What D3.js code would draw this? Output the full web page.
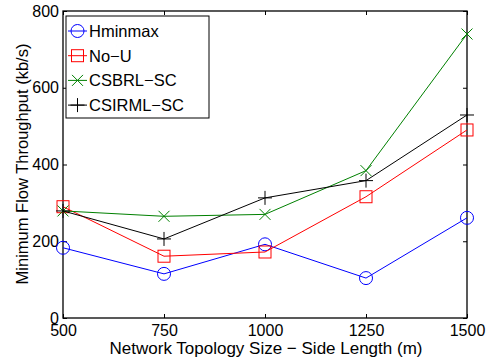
<!DOCTYPE html>
<html>
<head>
<meta charset="utf-8">
<script src="https://cdn.jsdelivr.net/npm/d3@7"></script>
<style>
  body { margin: 0; background: #fff; }
  text { font-family: "Liberation Sans", Arial, sans-serif; }
</style>
</head>
<body>
<script>
// Data
var sizes = [500, 750, 1000, 1250, 1500];
var hminmax = [183, 115, 192, 104, 261];
var noU = [290, 161, 172, 316, 490];
var csbrl = [279, 265, 270, 384, 740];
var csirml = [279, 206, 313, 358, 529];
var yTicks = [0, 200, 400, 600, 800];

var series = [
    {name: "Hminmax", values: hminmax, color: "#0000ff", marker: "circle"},
    {name: "No\u2212U", values: noU, color: "#ff0000", marker: "square"},
    {name: "CSBRL\u2212SC", values: csbrl, color: "#008000", marker: "x"},
    {name: "CSIRML\u2212SC", values: csirml, color: "#000000", marker: "plus"}
];

var width = 490, height = 362;
var margin = {top: 11, right: 23, bottom: 44, left: 63};
var plotW = width - margin.left - margin.right,
    plotH = height - margin.top - margin.bottom;

var svg = d3.select("body").append("svg")
    .attr("width", width)
    .attr("height", height);

var g = svg.append("g")
    .attr("transform", "translate(" + margin.left + "," + margin.top + ")");

var xScale = d3.scaleLinear().domain([500, 1500]).range([0, plotW]);
var yScale = d3.scaleLinear().domain([0, 800]).range([plotH, 0]);

// Box
g.append("rect")
    .attr("width", plotW).attr("height", plotH)
    .attr("fill", "none").attr("stroke", "#000").attr("stroke-width", 1.3);

// Axes with inward ticks (Matlab style)
function styleAxis(sel) {
    sel.select(".domain").remove();
    sel.selectAll("line").attr("stroke", "#000");
    sel.selectAll("text").style("font-size", "16px").attr("fill", "#000");
}
g.append("g").attr("transform", "translate(0," + plotH + ")")
    .call(d3.axisBottom(xScale).tickValues(sizes).tickFormat(d3.format("d"))
        .tickSizeInner(-4).tickSizeOuter(0).tickPadding(7))
    .call(styleAxis);
g.append("g")
    .call(d3.axisTop(xScale).tickValues(sizes).tickSizeInner(-4).tickSizeOuter(0).tickFormat(""))
    .call(styleAxis);
g.append("g")
    .call(d3.axisLeft(yScale).tickValues(yTicks).tickSizeInner(-4).tickSizeOuter(0).tickPadding(4))
    .call(styleAxis);
g.append("g").attr("transform", "translate(" + plotW + ",0)")
    .call(d3.axisRight(yScale).tickValues(yTicks).tickSizeInner(-4).tickSizeOuter(0).tickFormat(""))
    .call(styleAxis);

// Axis labels
svg.append("text")
    .attr("x", 266).attr("y", 354)
    .attr("text-anchor", "middle").style("font-size", "17px")
    .text("Network Topology Size \u2212 Side Length (m)");
svg.append("text")
    .attr("transform", "translate(28,164)rotate(-90)")
    .attr("text-anchor", "middle").style("font-size", "16.5px")
    .text("Minimum Flow Throughput (kb/s)");

// Marker drawing
function drawMarker(sel, type, color) {
    if (type === "circle") {
        sel.append("circle").attr("r", 6.5)
            .attr("fill", "none").attr("stroke", color).attr("stroke-width", 1);
    } else if (type === "square") {
        sel.append("rect").attr("x", -6).attr("y", -6).attr("width", 12).attr("height", 12)
            .attr("fill", "none").attr("stroke", color).attr("stroke-width", 1);
    } else if (type === "x") {
        sel.append("path").attr("d", "M-5.5,-5.5L5.5,5.5M-5.5,5.5L5.5,-5.5")
            .attr("stroke", color).attr("stroke-width", 1);
    } else {
        sel.append("path").attr("d", "M-7,0L7,0M0,-7L0,7")
            .attr("stroke", color).attr("stroke-width", 1);
    }
}

var line = d3.line()
    .x(function(d, i) { return xScale(sizes[i]); })
    .y(function(d) { return yScale(d); });

series.forEach(function(s) {
    g.append("path").datum(s.values)
        .attr("d", line)
        .attr("fill", "none").attr("stroke", s.color).attr("stroke-width", 1);
    s.values.forEach(function(v, i) {
        var m = g.append("g")
            .attr("transform", "translate(" + xScale(sizes[i]) + "," + yScale(v) + ")");
        drawMarker(m, s.marker, s.color);
    });
});

// Legend
var legend = svg.append("g").attr("transform", "translate(66,16)");
legend.append("rect")
    .attr("width", 143).attr("height", 102)
    .attr("fill", "#fff").attr("stroke", "#000").attr("stroke-width", 1);
series.forEach(function(s, i) {
    var row = legend.append("g").attr("transform", "translate(0," + (15 + i * 24.7) + ")");
    row.append("line").attr("x1", 2).attr("x2", 21)
        .attr("stroke", s.color).attr("stroke-width", 1);
    var m = row.append("g").attr("transform", "translate(11.5,0)");
    drawMarker(m, s.marker, s.color);
    row.append("text").attr("x", 23).attr("y", 6)
        .style("font-size", "16.5px").text(s.name);
});
</script>
</body>
</html>
